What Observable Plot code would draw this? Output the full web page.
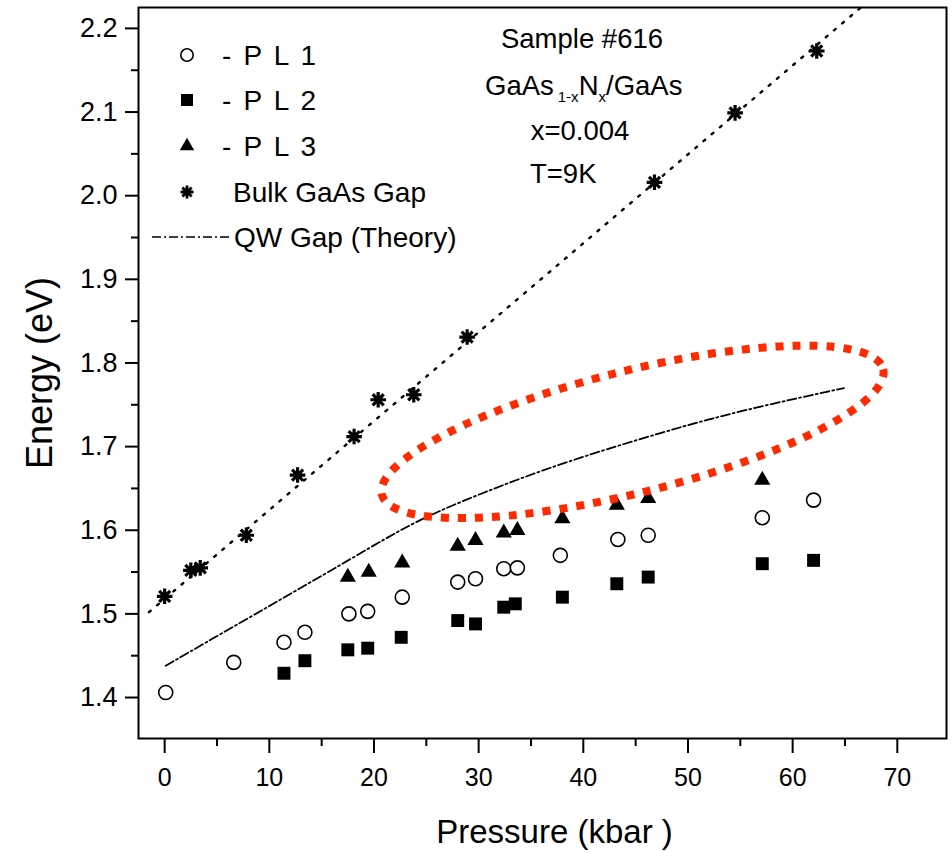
<!DOCTYPE html>
<html><head><meta charset="utf-8">
<script src="https://cdn.jsdelivr.net/npm/d3@7"></script>
<script src="https://cdn.jsdelivr.net/npm/@observablehq/plot@0.6"></script>
<style>
html,body{margin:0;padding:0;background:#fff;}
#chart svg{display:block;}
</style></head><body><div id="chart"></div>
<script>
// ---- data (pressure in kbar, energy in eV) ----
const pl1P = [0.1, 6.6, 11.4, 13.4, 17.6, 19.4, 22.7, 28.0, 29.7, 32.4, 33.7, 37.8, 43.3, 46.2, 57.1, 62.0];
const pl1E = [1.406, 1.442, 1.466, 1.478, 1.500, 1.503, 1.520, 1.538, 1.542, 1.554, 1.555, 1.570, 1.589, 1.594, 1.615, 1.636];
const pl2P = [11.4, 13.4, 17.5, 19.4, 22.6, 28.0, 29.7, 32.4, 33.5, 38.0, 43.2, 46.2, 57.1, 62.0];
const pl2E = [1.429, 1.444, 1.457, 1.459, 1.472, 1.492, 1.488, 1.508, 1.512, 1.520, 1.536, 1.544, 1.560, 1.564];
const pl3P = [17.5, 19.5, 22.7, 28.0, 29.7, 32.4, 33.7, 38.0, 43.2, 46.2, 57.1];
const pl3E = [1.544, 1.550, 1.561, 1.581, 1.588, 1.597, 1.600, 1.614, 1.630, 1.638, 1.660];
const bulkP = [0.0, 2.5, 3.4, 7.8, 12.7, 18.1, 20.4, 23.8, 28.9, 46.8, 54.5, 62.3];
const bulkE = [1.521, 1.552, 1.555, 1.594, 1.666, 1.712, 1.756, 1.762, 1.831, 2.016, 2.099, 2.173];
const bulkFitP = [-1.5, 66.8];
const bulkFitE = [1.502, 2.228];
const qwP = [0.1, 7.3, 13.7, 20.0, 24.3, 30.2, 37.8, 48.0, 55.0, 64.9];
const qwE = [1.438, 1.490, 1.536, 1.582, 1.613, 1.644, 1.680, 1.719, 1.743, 1.770];
// highlighted region (ellipse tips, data coordinates)
const ellipseP = [20.8, 68.7];
const ellipseE = [1.642, 1.792];
// ticks
const xTicks = [0, 10, 20, 30, 40, 50, 60, 70];
const xMinor = [5, 15, 25, 35, 45, 55, 65];
const yTicks = [1.4, 1.5, 1.6, 1.7, 1.8, 1.9, 2.0, 2.1, 2.2];
const yMinor = [1.45, 1.55, 1.65, 1.75, 1.85, 1.95, 2.05, 2.15];
// texts
const legendLabels = ["- P L 1", "- P L 2", "- P L 3", "Bulk GaAs Gap", "QW Gap (Theory)"];
const xTitle = "Pressure (kbar )";
const yTitle = "Energy (eV)";

const zip = (P, E) => P.map((p, i) => ({p, E: E[i]}));
const pl1 = zip(pl1P, pl1E), pl2 = zip(pl2P, pl2E), pl3 = zip(pl3P, pl3E);
const bulk = zip(bulkP, bulkE), bulkFit = zip(bulkFitP, bulkFitE), qw = zip(qwP, qwE);

const FONT = "'Liberation Sans', Arial, Helvetica, sans-serif";
const QW_DASH = "9,3,2,3";
const FIT_DASH = "2.2,8.5";

const asterisk = {
  draw(ctx, size) {
    const r = Math.sqrt(size / Math.PI);
    for (let k = 0; k < 4; k++) {
      const a = k * Math.PI / 4;
      ctx.moveTo(r * Math.cos(a), r * Math.sin(a));
      ctx.lineTo(-r * Math.cos(a), -r * Math.sin(a));
    }
  }
};

// ellipse highlight (custom render mark)
function ellipseMark(index, scales) {
  const x1 = scales.x(ellipseP[0]), y1 = scales.y(ellipseE[0]);
  const x2 = scales.x(ellipseP[1]), y2 = scales.y(ellipseE[1]);
  const cx = (x1 + x2) / 2, cy = (y1 + y2) / 2;
  const a = Math.hypot(x2 - x1, y2 - y1) / 2;
  const ang = Math.atan2(y2 - y1, x2 - x1) * 180 / Math.PI;
  const g = d3.create("svg:g");
  g.append("ellipse")
    .attr("cx", 0).attr("cy", 0).attr("rx", a).attr("ry", 61)
    .attr("transform", `translate(${cx},${cy}) rotate(${ang})`)
    .attr("fill", "none").attr("stroke", "#ff2a00")
    .attr("stroke-width", 8).attr("stroke-dasharray", "8,9");
  return g.node();
}

// legend (custom render mark)
function legendMark(index, scales, values, dims) {
  const g = d3.create("svg:g")
    .attr("font-family", FONT).attr("font-size", 28).attr("fill", "black")
    .attr("text-anchor", "start");
  const ox = dims.marginLeft, oy = dims.marginTop;
  const sx = ox + 49;          // symbol centre x
  const rows = [48, 93, 139, 185, 230].map(d => oy + d);
  const sym = (type, size) => d3.symbol(type, size)();
  g.append("path").attr("d", sym(d3.symbolCircle, Math.PI * 6.2 * 6.2))
    .attr("transform", `translate(${sx},${rows[0]})`).attr("fill", "white").attr("stroke", "black").attr("stroke-width", 1.6);
  g.append("path").attr("d", sym(d3.symbolSquare, 144))
    .attr("transform", `translate(${sx},${rows[1]})`).attr("fill", "black");
  g.append("path").attr("d", sym(d3.symbolTriangle, 90))
    .attr("transform", `translate(${sx},${rows[2]})`).attr("fill", "black");
  g.append("path").attr("d", sym(asterisk, Math.PI * 6.5 * 6.5))
    .attr("transform", `translate(${sx},${rows[3]})`).attr("fill", "none").attr("stroke", "black").attr("stroke-width", 2.8);
  g.append("line").attr("x1", ox + 14).attr("x2", ox + 92).attr("y1", rows[4]).attr("y2", rows[4])
    .attr("stroke", "black").attr("stroke-width", 1.6).attr("stroke-dasharray", QW_DASH);
  const tx = [ox + 84, ox + 84, ox + 84, ox + 95, ox + 96];
  legendLabels.forEach((t, i) => {
    g.append("text").attr("x", tx[i]).attr("y", rows[i] + 10)
      .attr("text-anchor", "start")
      .attr("letter-spacing", i < 3 ? 2.2 : 0).text(t);
  });
  return g.node();
}

// sample annotation (custom render mark)
function sampleMark(index, scales, values, dims) {
  const g = d3.create("svg:g")
    .attr("font-family", FONT).attr("font-size", 27.5).attr("fill", "black");
  g.append("text").attr("x", 582).attr("y", 48).attr("text-anchor", "middle").text("Sample #616");
  const t = g.append("text").attr("x", 485).attr("y", 95).attr("text-anchor", "start");
  t.append("tspan").text("GaAs");
  t.append("tspan").attr("font-size", 15).attr("dy", 7).attr("dx", 4).text("1-x");
  t.append("tspan").attr("dy", -7).text("N");
  t.append("tspan").attr("font-size", 15).attr("dy", 7).text("x");
  t.append("tspan").attr("dy", -7).text("/GaAs");
  g.append("text").attr("x", 580).attr("y", 140).attr("text-anchor", "middle").text("x=0.004");
  g.append("text").attr("x", 530).attr("y", 183).attr("text-anchor", "start").text("T=9K");
  return g.node();
}

const chart = Plot.plot({
  width: 952,
  height: 852,
  marginLeft: 138,
  marginRight: 6,
  marginTop: 7,
  marginBottom: 114,
  style: {fontFamily: FONT, fontSize: "25px", color: "black", background: "white"},
  x: {domain: [-2.5, 74.7]},
  y: {domain: [1.351, 2.225]},
  marks: [
    Plot.axisX(xTicks, {tickSize: 15, tickPadding: 15, strokeWidth: 2, label: null, fontSize: 25}),
    Plot.axisX(xMinor, {tickSize: 8, strokeWidth: 2, tickFormat: () => "", label: null}),
    Plot.axisY(yTicks, {tickSize: 13, tickPadding: 8, strokeWidth: 2, label: null, tickFormat: d3.format(".1f"), fontSize: 27}),
    Plot.axisY(yMinor, {tickSize: 7, strokeWidth: 2, tickFormat: () => "", label: null}),
    Plot.frame({stroke: "black", strokeWidth: 2}),
    Plot.line(bulkFit, {x: "p", y: "E", stroke: "black", strokeWidth: 2.4, strokeDasharray: FIT_DASH, strokeLinecap: "round"}),
    Plot.line(qw, {x: "p", y: "E", curve: "basis", stroke: "black", strokeWidth: 1.8, strokeDasharray: QW_DASH}),
    Plot.dot(pl1, {x: "p", y: "E", r: 7, fill: "white", stroke: "black", strokeWidth: 1.6}),
    Plot.dot(pl2, {x: "p", y: "E", symbol: "square", r: 7.3, fill: "black", stroke: "none"}),
    Plot.dot(pl3, {x: "p", y: "E", symbol: "triangle", r: 6, fill: "black", stroke: "none"}),
    Plot.dot(bulk, {x: "p", y: "E", symbol: asterisk, r: 7.8, fill: "none", stroke: "black", strokeWidth: 3.2}),
    ellipseMark,
    legendMark,
    sampleMark,
    Plot.text([xTitle], {frameAnchor: "bottom", dx: 12, dy: 104, fontSize: 33, lineAnchor: "bottom"}),
    Plot.text([yTitle], {frameAnchor: "left", rotate: -90, dx: -98, dy: 0, fontSize: 36, textAnchor: "middle", lineAnchor: "middle"})
  ]
});
document.getElementById("chart").append(chart);
</script>
</body></html>
